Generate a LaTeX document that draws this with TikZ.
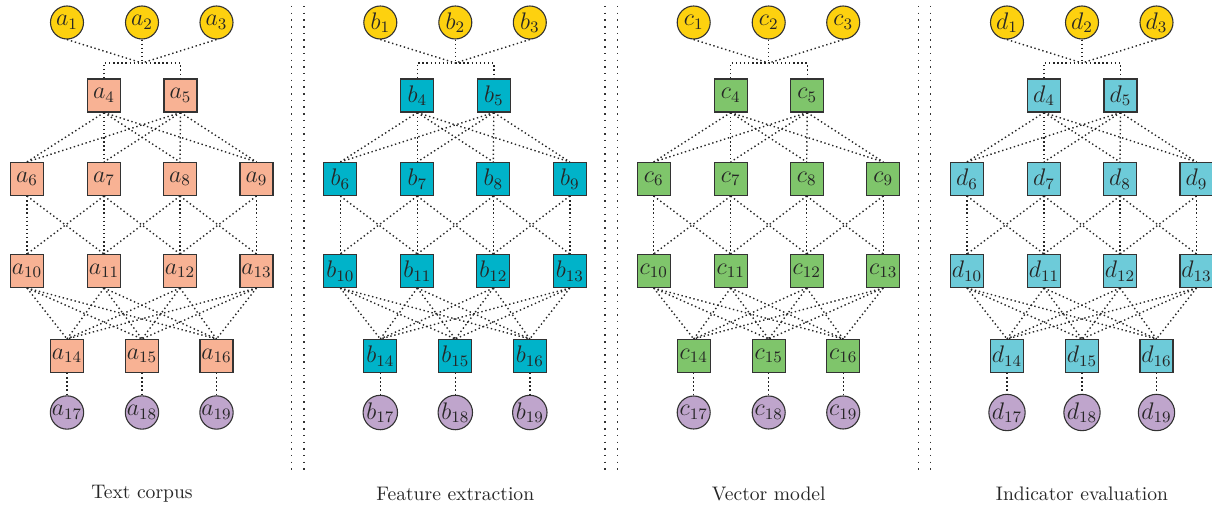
\documentclass[tikz,border=0pt]{standalone}
\definecolor{cyel}{HTML}{FDD10F}
\definecolor{csal}{HTML}{F8B294}
\definecolor{cteal}{HTML}{00B3C9}
\definecolor{cgreen}{HTML}{7FC56B}
\definecolor{cltb}{HTML}{6DCBD9}
\definecolor{cpur}{HTML}{BFA5CC}
\tikzset{
 sq/.style={draw=black!80, line width=0.55pt, minimum size=16.5pt, inner sep=0pt, text=black!85, font=\fontsize{12}{13}\selectfont},
 ci/.style={circle, draw=black!80, line width=0.55pt, minimum size=16.5pt, inner sep=0pt, text=black!85, font=\fontsize{12}{13}\selectfont},
 con/.style={draw=black!85, line width=0.7pt, dash pattern=on 0.7pt off 1.35pt},
 divl/.style={draw=black!80, line width=0.75pt, dash pattern=on 0.75pt off 2.6pt},
 captext/.style={font=\fontsize{9.8}{11}\selectfont, text=black!85, inner sep=0pt}
}
\begin{document}
\begin{tikzpicture}[x=0.5pt, y=-0.5pt]
\useasboundingbox (0,0) rectangle (1212,508);
\foreach \v/\col/\off/\ttl in {a/csal/0/Text corpus, b/cteal/313.3/Feature extraction, c/cgreen/626.7/Vector model, d/cltb/940/Indicator evaluation}{
  \node[ci, fill=cyel] (\v1) at (\off+67,22.5) {$\v_{1}$};
  \node[ci, fill=cyel] (\v2) at (\off+142,22.5) {$\v_{2}$};
  \node[ci, fill=cyel] (\v3) at (\off+216.5,22.5) {$\v_{3}$};
  \node[sq, fill=\col] (\v4) at (\off+104,95.5) {$\v_{4}$};
  \node[sq, fill=\col] (\v5) at (\off+180.5,95.5) {$\v_{5}$};
  \foreach \i/\x in {6/27,7/104,8/180,9/256.5}
    \node[sq, fill=\col] (\v\i) at (\off+\x,179) {$\v_{\i}$};
  \foreach \i/\x in {10/27,11/104,12/180,13/256.5}
    \node[sq, fill=\col] (\v\i) at (\off+\x,271) {$\v_{\i}$};
  \foreach \i/\x in {14/67,15/142,16/216.5}
    \node[sq, fill=\col] (\v\i) at (\off+\x,356) {$\v_{\i}$};
  \foreach \i/\x in {17/67,18/142,19/216.5}
    \node[ci, fill=cpur] (\v\i) at (\off+\x,412.5) {$\v_{\i}$};
  \coordinate (\v bus) at (\off+142,63);
  \coordinate (\v busL) at (\off+104,63);
  \coordinate (\v busR) at (\off+180.5,63);
  \draw[con] (\v1.south) -- (\v bus);
  \draw[con] (\v2.south) -- (\v bus);
  \draw[con] (\v3.south) -- (\v bus);
  \draw[con] (\v4.north) -- (\v busL) -- (\v busR) -- (\v5.north);
  \foreach \s in {4,5}
    \foreach \t in {6,...,9}
      \draw[con] (\v\s.south) -- (\v\t.north);
  \foreach \s/\t in {6/10,6/11,7/10,7/11,7/12,8/11,8/12,8/13,9/12,9/13}
    \draw[con] (\v\s.south) -- (\v\t.north);
  \foreach \s in {10,...,13}
    \foreach \t in {14,15,16}
      \draw[con] (\v\s.south) -- (\v\t.north);
  \foreach \s/\t in {14/17,15/18,16/19}
    \draw[con] (\v\s.south) -- (\v\t.north);
  \node[captext] (\v title) at (\off+142,494) {\ttl};
}
\foreach \x in {291.7,304,605,617.3,918.3,930.6}
  \draw[divl] (\x,6) -- (\x,473);
\end{tikzpicture}
\end{document}
